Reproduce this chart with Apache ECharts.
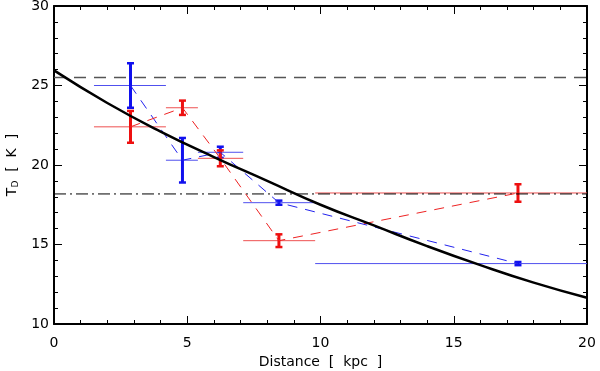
<!DOCTYPE html>
<html>
<head>
<meta charset="utf-8">
<script src="https://cdn.jsdelivr.net/npm/echarts@6/dist/echarts.min.js"></script>
<style>html,body{margin:0;padding:0;background:#fff}#c{width:600px;height:371px}</style>
</head>
<body>
<div id="c"></div>
<script>
// ---- data ----
const pointX   = [2.87, 4.82, 6.24, 8.44, 17.41];
const binLo    = [1.5, 4.2, 5.4, 7.1, 9.8];
const binHi    = [4.2, 5.4, 7.1, 9.8, 20];
const blueT    = [25.0, 20.3, 20.8, 17.63, 13.8];
const blueErr  = [1.4, 1.4, 0.35, 0.13, 0.1];
const redT     = [22.4, 23.6, 20.42, 15.24, 18.24];
const redErr   = [1.0, 0.45, 0.5, 0.4, 0.55];
const curveX   = [0, 2, 4, 6, 8, 10, 12, 14, 16, 18, 20];
const curveT   = [25.95, 23.9, 22.1, 20.5, 19.0, 17.5, 16.2, 14.9, 13.7, 12.6, 11.65];
const dashedRefT  = 25.5;
const dashDotRefT = 18.18;
const xTicks = [0, 5, 10, 15, 20];
const yTicks = [10, 15, 20, 25, 30];

const FONT = 'DejaVu Sans';
const xMin = xTicks[0], xMax = xTicks[xTicks.length - 1];
const yMin = yTicks[0], yMax = yTicks[yTicks.length - 1];

function errData(T, E) {
  return pointX.map((x, i) => [x, T[i], E[i], binLo[i], binHi[i]]);
}
function makeErr(barColor, thinColor) {
  return function (params, api) {
    const x = api.value(0), y = api.value(1), e = api.value(2), lo = api.value(3), hi = api.value(4);
    const pL = api.coord([lo, y]), pR = api.coord([hi, y]);
    const pT = api.coord([x, y + e]), pB = api.coord([x, y - e]);
    const cap = 3.5;
    return {
      type: 'group',
      children: [
        { type: 'line', shape: { x1: pL[0], y1: pL[1], x2: pR[0], y2: pR[1] }, style: { stroke: thinColor, lineWidth: 1 } },
        { type: 'line', shape: { x1: pT[0], y1: pT[1], x2: pB[0], y2: pB[1] }, style: { stroke: barColor, lineWidth: 3 } },
        { type: 'line', shape: { x1: pT[0] - cap, y1: pT[1], x2: pT[0] + cap, y2: pT[1] }, style: { stroke: barColor, lineWidth: 2.5 } },
        { type: 'line', shape: { x1: pB[0] - cap, y1: pB[1], x2: pB[0] + cap, y2: pB[1] }, style: { stroke: barColor, lineWidth: 2.5 } }
      ]
    };
  };
}

function xAxisCfg(pos, showLabel) {
  return {
    type: 'value', min: xMin, max: xMax, interval: 5, position: pos,
    axisLine: { show: true, onZero: false, lineStyle: { color: '#000', width: 2 } },
    axisTick: { show: true, inside: true, length: 8, lineStyle: { color: '#000', width: 1 } },
    minorTick: { show: true, splitNumber: 5, length: 4, lineStyle: { color: '#000', width: 1 } },
    splitLine: { show: false },
    axisLabel: { show: showLabel, color: '#000', fontFamily: FONT, fontSize: 14, margin: 12 },
    name: showLabel ? 'Distance  [  kpc  ]' : '',
    nameLocation: 'middle', nameGap: 31,
    nameTextStyle: { color: '#000', fontFamily: FONT, fontSize: 14 }
  };
}
function yAxisCfg(pos, showLabel) {
  return {
    type: 'value', min: yMin, max: yMax, interval: 5, position: pos,
    axisLine: { show: true, onZero: false, lineStyle: { color: '#000', width: 2 } },
    axisTick: { show: true, inside: true, length: 8, lineStyle: { color: '#000', width: 1 } },
    minorTick: { show: true, splitNumber: 5, length: 4, lineStyle: { color: '#000', width: 1 } },
    splitLine: { show: false },
    axisLabel: { show: showLabel, color: '#000', fontFamily: FONT, fontSize: 14, margin: 5 },
    name: showLabel ? '{t|T}{s|D}{t|  [  K  ]}' : '',
    nameLocation: 'middle', nameGap: 32, nameRotate: 90,
    nameTextStyle: {
      color: '#000', fontFamily: FONT, fontSize: 14,
      rich: {
        t: { fontFamily: FONT, fontSize: 14, color: '#000' },
        s: { fontFamily: FONT, fontSize: 9, color: '#000', verticalAlign: 'bottom', padding: [6, 0, 0, 0] }
      }
    }
  };
}

const chart = echarts.init(document.getElementById('c'), null, { renderer: 'canvas' });
chart.setOption({
  animation: false,
  backgroundColor: '#fff',
  grid: { left: 54, right: 13, top: 6, bottom: 47, containLabel: false, outerBoundsMode: 'none' },
  xAxis: [xAxisCfg('bottom', true), xAxisCfg('top', false)],
  yAxis: [yAxisCfg('left', true), yAxisCfg('right', false)],
  series: [
    {
      type: 'line', xAxisIndex: 0, yAxisIndex: 0, symbol: 'none', silent: true,
      data: [[xMin, dashedRefT], [xMax, dashedRefT]],
      lineStyle: { color: '#555', width: 1.5, type: [12, 8] }
    },
    {
      type: 'line', xAxisIndex: 0, yAxisIndex: 0, symbol: 'none', silent: true,
      data: [[xMin, dashDotRefT], [xMax, dashDotRefT]],
      lineStyle: { color: '#000', width: 1, type: [12, 4, 2, 4] }
    },
    {
      type: 'line', xAxisIndex: 0, yAxisIndex: 0, symbol: 'none', silent: true,
      data: pointX.map((x, i) => [x, blueT[i]]),
      lineStyle: { color: '#2222ee', width: 1, type: [10, 8] }
    },
    {
      type: 'line', xAxisIndex: 0, yAxisIndex: 0, symbol: 'none', silent: true,
      data: pointX.map((x, i) => [x, redT[i]]),
      lineStyle: { color: '#ee2222', width: 1, type: [10, 8] }
    },
    {
      type: 'line', xAxisIndex: 0, yAxisIndex: 0, symbol: 'none', silent: true, smooth: true,
      data: curveX.map((x, i) => [x, curveT[i]]),
      lineStyle: { color: '#000', width: 2.5 }
    },
    {
      type: 'custom', xAxisIndex: 0, yAxisIndex: 0, silent: true,
      renderItem: makeErr('#1010ee', '#5050ee'),
      data: errData(blueT, blueErr)
    },
    {
      type: 'custom', xAxisIndex: 0, yAxisIndex: 0, silent: true,
      renderItem: makeErr('#ee1010', '#ee5050'),
      data: errData(redT, redErr)
    }
  ]
});
</script>
</body>
</html>
